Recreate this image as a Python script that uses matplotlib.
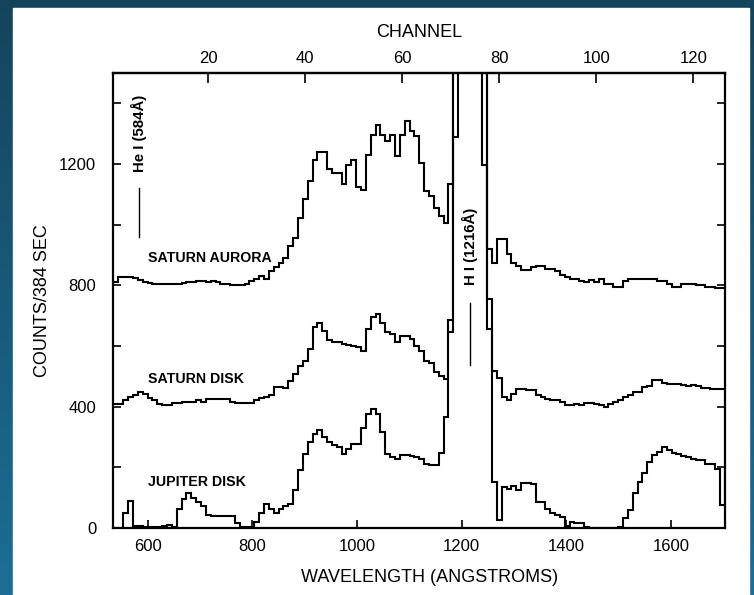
import numpy as np
import matplotlib
matplotlib.use("Agg")
import matplotlib.pyplot as plt
from matplotlib.colors import LinearSegmentedColormap
from matplotlib.patches import Rectangle

plt.rcParams['font.family'] = ['Liberation Sans', 'DejaVu Sans']

# counts per channel (channel 0..127), 2000 = off scale (Lyman alpha)
saturn_aurora = [
    812, 812, 826, 828, 826, 824, 818, 812, 808, 806,
    805, 806, 803, 806, 804, 808, 812, 810, 813, 815,
    812, 814, 810, 806, 803, 802, 800, 802, 805, 815,
    822, 831, 820, 848, 862, 875, 890, 930, 957, 1023,
    1086, 1144, 1212, 1241, 1241, 1182, 1171, 1171, 1135, 1198,
    1213, 1124, 1113, 1231, 1297, 1330, 1295, 1275, 1295, 1226,
    1296, 1343, 1308, 1292, 1204, 1111, 1094, 1056, 1029, 1007,
    1133, 2000, 2000, 2000, 2000, 2000, 2000, 1198, 919, 875,
    952, 952, 903, 875, 864, 850, 850, 859, 864, 864,
    853, 853, 848, 834, 826, 821, 821, 815, 810, 818,
    810, 821, 805, 805, 796, 796, 815, 821, 821, 821,
    821, 821, 821, 815, 815, 805, 794, 794, 805, 805,
    805, 802, 802, 796, 796, 792, 792, 792,
]
saturn_disk = [
    410, 410, 410, 421, 432, 437, 450, 443, 429, 421,
    410, 404, 407, 412, 412, 417, 417, 417, 423, 417,
    424, 424, 424, 424, 424, 417, 412, 412, 412, 412,
    421, 429, 432, 437, 464, 464, 462, 486, 508, 533,
    552, 590, 662, 676, 651, 620, 612, 612, 607, 604,
    601, 596, 585, 657, 695, 706, 675, 645, 640, 612,
    634, 634, 623, 601, 585, 552, 545, 515, 500, 490,
    687, 1288, 2000, 2000, 2000, 2000, 2000, 2000, 755, 519,
    495, 432, 421, 443, 459, 459, 456, 456, 437, 432,
    426, 421, 423, 415, 404, 406, 410, 407, 412, 412,
    410, 407, 399, 410, 415, 421, 432, 437, 448, 448,
    464, 467, 489, 489, 478, 476, 474, 474, 470, 467,
    470, 467, 462, 462, 459, 459, 459, 459,
]
jupiter_disk = [
    0, 0, 0, 48, 89, 8, 6, 4, 3, 3,
    3, 6, 10, 4, 64, 97, 114, 100, 87, 72,
    43, 40, 40, 40, 40, 38, 15, 3, 3, 3,
    21, 48, 79, 64, 48, 64, 72, 79, 125, 190,
    245, 283, 311, 322, 300, 283, 272, 267, 245, 262,
    278, 278, 330, 377, 393, 377, 317, 245, 234, 229,
    240, 240, 238, 234, 229, 212, 207, 207, 246, 366,
    645, 2000, 2000, 2000, 2000, 2000, 2000, 2000, 657, 152,
    26, 136, 130, 140, 125, 150, 150, 145, 86, 86,
    61, 48, 43, 37, 5, 21, 16, 16, 2, 0,
    0, 0, 0, 0, 0, 3, 32, 59, 114, 152,
    180, 218, 240, 251, 267, 256, 248, 243, 237, 234,
    229, 223, 223, 212, 212, 196, 76, 196,
]

labels = ["SATURN AURORA", "SATURN DISK", "JUPITER DISK"]
label_y = [889, 490, 153]

channel_ticks = [20, 40, 60, 80, 100, 120]
wave_ticks = [600, 800, 1000, 1200, 1400, 1600]
HE_I = 584
LY_A = 1216


def ch2wl(c):
    return 530.6 + 9.266 * np.asarray(c, dtype=float)


def wl2ch(w):
    return (np.asarray(w, dtype=float) - 530.6) / 9.266


fig = plt.figure(figsize=(7.54, 5.95), dpi=100)

# blue frame around the white page
bg = fig.add_axes([0, 0, 1, 1], zorder=-10)
grad = np.linspace(0, 1, 256).reshape(-1, 1)
cmap = LinearSegmentedColormap.from_list("bg", ["#14445d", "#1d6e96"])
bg.imshow(grad, aspect="auto", cmap=cmap, extent=[0, 1, 0, 1], origin="upper")
bg.add_patch(Rectangle((13 / 754, 0), 736 / 754, 587 / 595, color="white",
                       transform=bg.transAxes))
bg.set_xlim(0, 1)
bg.set_ylim(0, 1)
bg.axis("off")

ax = fig.add_axes([113 / 754, 1 - 528 / 595, 612 / 754, 455 / 595])
ax.set_facecolor("none")

edges = ch2wl(np.arange(len(saturn_aurora) + 1) - 0.5)
for series in [saturn_aurora, saturn_disk, jupiter_disk]:
    ax.stairs(series, edges, baseline=None, color="black", lw=1.5)

ax.set_xlim(534, 1703)
ax.set_ylim(0, 1500)

for name, y in zip(labels, label_y):
    ax.text(601, y, name, fontsize=10.2, fontweight="bold", ha="left", va="center")

ax.text(HE_I, 1300, "He I (584Å)", rotation=90, fontsize=10.8, fontweight="bold",
        ha="center", va="center")
ax.plot([HE_I, HE_I], [959, 1120], color="black", lw=1)
ax.text(LY_A, 928, "H I (1216Å)", rotation=90, fontsize=10.8, fontweight="bold",
        ha="center", va="center")
ax.plot([LY_A, LY_A], [536, 741], color="black", lw=1)

ax.set_xticks(wave_ticks)
ax.set_yticks([0, 400, 800, 1200])
ax.set_yticks([200, 600, 1000, 1400], minor=True)
ax.tick_params(axis="x", direction="in", length=6, width=1.2, labelsize=12, pad=8,
               top=False)
ax.tick_params(axis="y", which="both", direction="in", length=6, width=1.2,
               labelsize=12, pad=12, right=True)
for s in ax.spines.values():
    s.set_linewidth(1.6)

secax = ax.secondary_xaxis("top", functions=(wl2ch, ch2wl))
secax.set_xticks(channel_ticks)
secax.tick_params(direction="in", length=7, width=1.2, labelsize=12, pad=5)
secax.spines["top"].set_linewidth(1.6)
secax.set_xlabel("CHANNEL", fontsize=13, labelpad=10)

ax.set_xlabel("WAVELENGTH (ANGSTROMS)", fontsize=13)
ax.xaxis.set_label_coords((430 - 113) / 612, -0.090)
ax.set_ylabel("COUNTS/384 SEC", fontsize=13)
ax.yaxis.set_label_coords(-0.102, 0.5)

fig.savefig("out.png", dpi=100)
